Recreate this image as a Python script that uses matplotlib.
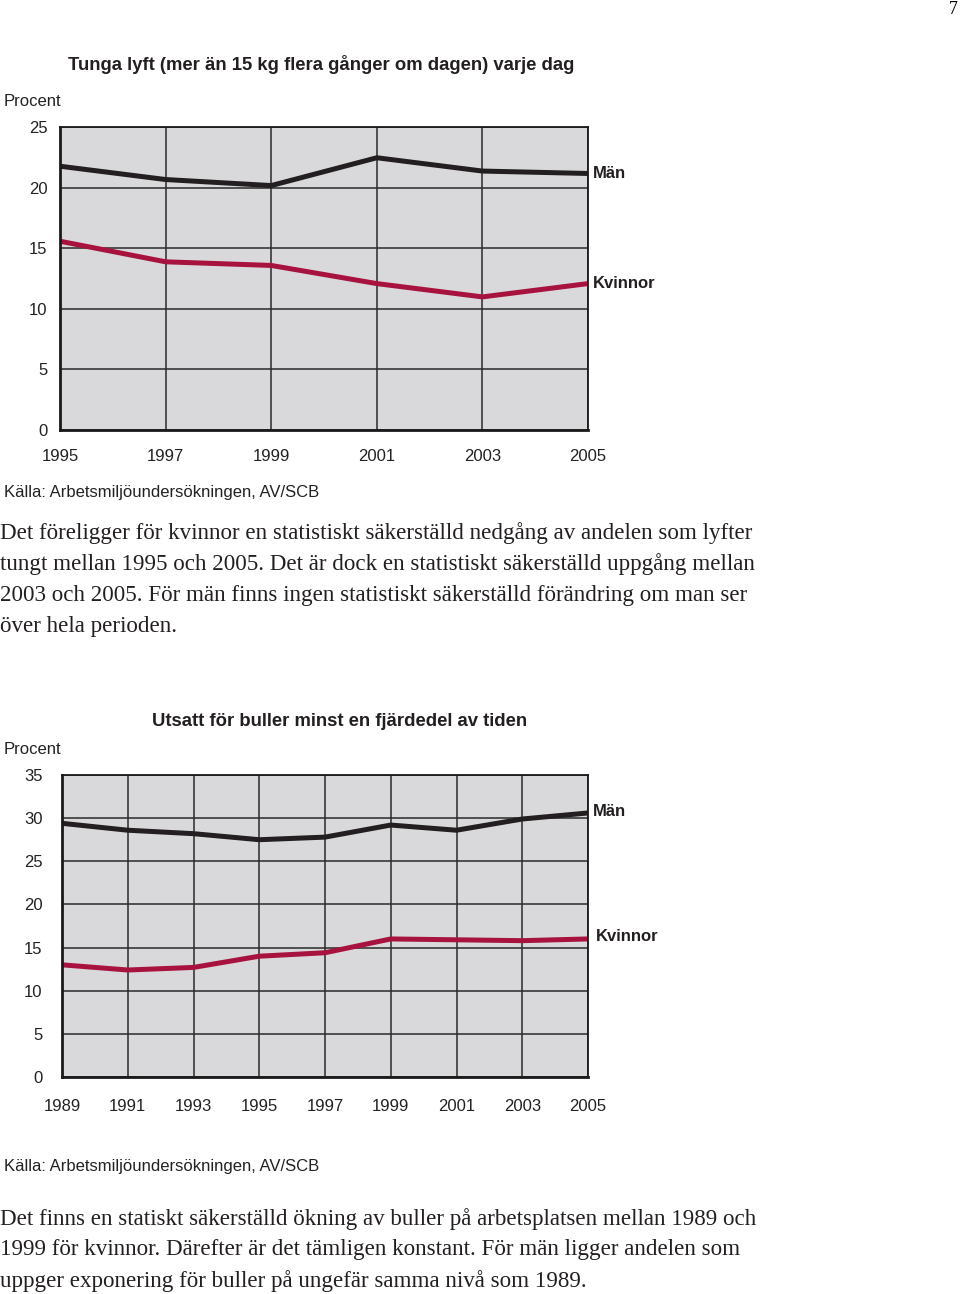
import matplotlib.pyplot as plt

# chart 1: heavy lifting
years1 = [1995, 1997, 1999, 2001, 2003, 2005]
man1 = [21.8, 20.7, 20.2, 22.5, 21.4, 21.2]
kvinnor1 = [15.6, 13.9, 13.6, 12.1, 11.0, 12.1]

# chart 2: noise
years2 = [1989, 1991, 1993, 1995, 1997, 1999, 2001, 2003, 2005]
man2 = [29.4, 28.6, 28.2, 27.5, 27.8, 29.2, 28.6, 29.9, 30.6]
kvinnor2 = [13.0, 12.4, 12.7, 14.0, 14.4, 16.0, 15.9, 15.8, 16.0]

title1 = "Tunga lyft (mer än 15 kg flera gånger om dagen) varje dag"
title2 = "Utsatt för buller minst en fjärdedel av tiden"
source = "Källa: Arbetsmiljöundersökningen, AV/SCB"
text1 = ["Det föreligger för kvinnor en statistiskt säkerställd nedgång av andelen som lyfter",
         "tungt mellan 1995 och 2005. Det är dock en statistiskt säkerställd uppgång mellan",
         "2003 och 2005. För män finns ingen statistiskt säkerställd förändring om man ser",
         "över hela perioden."]
text2 = ["Det finns en statiskt säkerställd ökning av buller på arbetsplatsen mellan 1989 och",
         "1999 för kvinnor. Därefter är det tämligen konstant. För män ligger andelen som",
         "uppger exponering för buller på ungefär samma nivå som 1989."]

W, H = 960, 1294
plt.rcParams['font.family'] = ['Liberation Sans', 'DejaVu Sans']
fig = plt.figure(figsize=(W / 100, H / 100), dpi=100)

RED = '#a8123e'
BLK = '#231f20'
BG = '#d9d9db'


def px(x, y):
    return x / W, 1 - y / H


def make_ax(l, t, r, b):
    ax = fig.add_axes([l / W, 1 - b / H, (r - l) / W, (b - t) / H])
    ax.set_facecolor(BG)
    ax.grid(True, color='#2a2a2a', lw=1.1)
    ax.set_axisbelow(True)
    for s in ax.spines.values():
        s.set_color('#1a1a1a')
        s.set_linewidth(1.3)
    ax.spines['left'].set_linewidth(2)
    ax.spines['bottom'].set_linewidth(2)
    ax.tick_params(length=0, labelsize=12, colors='#222222')
    return ax


def page_text(x, y, s, **kw):
    fx, fy = px(x, y)
    fig.text(fx, fy, s, **kw)


page_text(953, 10, "7", family='Liberation Serif', fontsize=13, ha='center', va='center')

# chart 1
ax1 = make_ax(60, 127.5, 588, 430)
ax1.plot(years1, man1, color=BLK, lw=3.6, solid_joinstyle='miter')
ax1.plot(years1, kvinnor1, color=RED, lw=3.6, solid_joinstyle='miter')
ax1.set_xlim(1995, 2005)
ax1.set_ylim(0, 25)
ax1.set_xticks(years1)
ax1.set_yticks([0, 5, 10, 15, 20, 25])
ax1.tick_params(axis='y', pad=9)
ax1.tick_params(axis='x', pad=14)
ax1.text(2005.1, man1[-1], "Män", fontsize=12, fontweight='bold', va='center', color=BLK)
ax1.text(2005.1, kvinnor1[-1], "Kvinnor", fontsize=12, fontweight='bold', va='center', color=BLK)

page_text(68, 65, title1, fontsize=13.3, fontweight='bold', va='center', color=BLK)
page_text(4, 101, "Procent", fontsize=12, va='center', color='#222222')
page_text(4, 493, source, fontsize=12, va='center', color='#222222')
for i, line in enumerate(text1):
    page_text(0, 533 + 31 * i, line, family='Liberation Serif', fontsize=16.6, va='center', color=BLK)

# chart 2
ax2 = make_ax(62, 775, 588, 1077)
ax2.plot(years2, man2, color=BLK, lw=3.6, solid_joinstyle='miter')
ax2.plot(years2, kvinnor2, color=RED, lw=3.6, solid_joinstyle='miter')
ax2.set_xlim(1989, 2005)
ax2.set_ylim(0, 35)
ax2.set_xticks(years2)
ax2.set_yticks([0, 5, 10, 15, 20, 25, 30, 35])
ax2.tick_params(axis='y', pad=14)
ax2.tick_params(axis='x', pad=15.5)
ax2.text(2005.15, man2[-1] + 0.2, "Män", fontsize=12, fontweight='bold', va='center', color=BLK)
ax2.text(2005.25, kvinnor2[-1] + 0.3, "Kvinnor", fontsize=12, fontweight='bold', va='center', color=BLK)

page_text(152, 721, title2, fontsize=13.3, fontweight='bold', va='center', color=BLK)
page_text(4, 749, "Procent", fontsize=12, va='center', color='#222222')
page_text(4, 1166, source, fontsize=12, va='center', color='#222222')
for i, line in enumerate(text2):
    page_text(0, 1219 + 31 * i, line, family='Liberation Serif', fontsize=16.6, va='center', color=BLK)

fig.savefig('out.png', dpi=100, facecolor='white')
